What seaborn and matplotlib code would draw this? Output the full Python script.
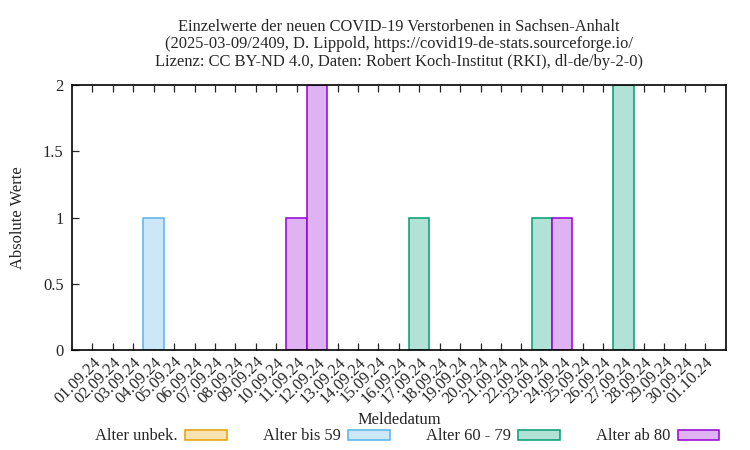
import pandas as pd
import matplotlib
matplotlib.use('Agg')
import matplotlib.pyplot as plt
from matplotlib.patches import Patch
import seaborn as sns

days = ['01.09.24', '02.09.24', '03.09.24', '04.09.24', '05.09.24', '06.09.24',
        '07.09.24', '08.09.24', '09.09.24', '10.09.24', '11.09.24', '12.09.24',
        '13.09.24', '14.09.24', '15.09.24', '16.09.24', '17.09.24', '18.09.24',
        '19.09.24', '20.09.24', '21.09.24', '22.09.24', '23.09.24', '24.09.24',
        '25.09.24', '26.09.24', '27.09.24', '28.09.24', '29.09.24', '30.09.24',
        '01.10.24']

groups = ['Alter unbek.', 'Alter bis 59', 'Alter 60 - 79', 'Alter ab 80']
alter_unbek = [0] * 31
alter_bis59 = [0, 0, 0, 1, 0, 0, 0, 0, 0, 0, 0, 0, 0, 0, 0, 0,
               0, 0, 0, 0, 0, 0, 0, 0, 0, 0, 0, 0, 0, 0, 0]
alter_60_79 = [0, 0, 0, 0, 0, 0, 0, 0, 0, 0, 0, 0, 0, 0, 0, 0,
               1, 0, 0, 0, 0, 0, 1, 0, 0, 0, 2, 0, 0, 0, 0]
alter_ab80 = [0, 0, 0, 0, 0, 0, 0, 0, 0, 0, 1, 2, 0, 0, 0, 0,
              0, 0, 0, 0, 0, 0, 0, 1, 0, 0, 0, 0, 0, 0, 0]

yticks = [0, 0.5, 1, 1.5, 2]
ytick_labels = ['0', '0.5', '1', '1.5', '2']

edge_colors = ['#e69f00', '#56b4e9', '#009e73', '#9400d3']
fill_colors = ['#f8e2b2', '#cce8f8', '#b2e2d5', '#dfb2f2']

title = ('Einzelwerte der neuen COVID-19 Verstorbenen in Sachsen-Anhalt\n'
         '(2025-03-09/2409, D. Lippold, https://covid19-de-stats.sourceforge.io/\n'
         'Lizenz: CC BY-ND 4.0, Daten: Robert Koch-Institut (RKI), dl-de/by-2-0)')

FS = 11.9

sns.set_theme(style='ticks')
plt.rcParams['font.family'] = ['Liberation Serif', 'DejaVu Serif']
plt.rcParams['font.size'] = FS

df = pd.DataFrame({'Meldedatum': days * 4,
                   'Gruppe': [g for g in groups for _ in days],
                   'Wert': alter_unbek + alter_bis59 + alter_60_79 + alter_ab80})

fig = plt.figure(figsize=(7.5, 4.5), dpi=100)
ax = fig.add_axes([0.096, 0.2222, 0.8716, 0.5889])

for g, fc, ec in zip(groups, fill_colors, edge_colors):
    sub = df[(df['Gruppe'] == g) & (df['Wert'] > 0)]
    if len(sub) == 0:
        continue
    sns.barplot(data=sub, x='Meldedatum', y='Wert', order=days, ax=ax,
                color=fc, edgecolor=ec, linewidth=1.1, width=1.0,
                saturation=1, errorbar=None)

ax.set_xlim(-1, len(days))
ax.set_ylim(0, 2)
ax.set_yticks(yticks)
ax.set_yticklabels(ytick_labels, fontsize=FS)
ax.set_xticks(range(len(days)))
ax.set_xticklabels(days, rotation=45, ha='right', va='top',
                   rotation_mode='anchor', fontsize=FS)
ax.tick_params(axis='x', direction='in', top=True, length=5, width=0.9, pad=3)
ax.tick_params(axis='y', direction='in', right=False, length=5, width=0.9, pad=6)
for s in ax.spines.values():
    s.set_visible(True)
    s.set_linewidth(1.2)
    s.set_color('black')

ax.set_xlabel('Meldedatum', fontsize=FS, labelpad=0)
ax.xaxis.set_label_coords(0.5, -0.235)
ax.set_ylabel('Absolute Werte', fontsize=FS, labelpad=12)
ax.set_title(title, fontsize=FS, linespacing=1.1, pad=14)

handles = [Patch(facecolor=fc, edgecolor=ec, linewidth=1.1)
           for fc, ec in zip(fill_colors, edge_colors)]
fig.legend(handles, groups, loc='center', bbox_to_anchor=(0.543, 0.03), ncol=4,
           frameon=False, markerfirst=False, handlelength=2.5, handleheight=0.55,
           handletextpad=0.45, columnspacing=2.2, fontsize=FS)

plt.savefig('out.png', dpi=100)
plt.close()
